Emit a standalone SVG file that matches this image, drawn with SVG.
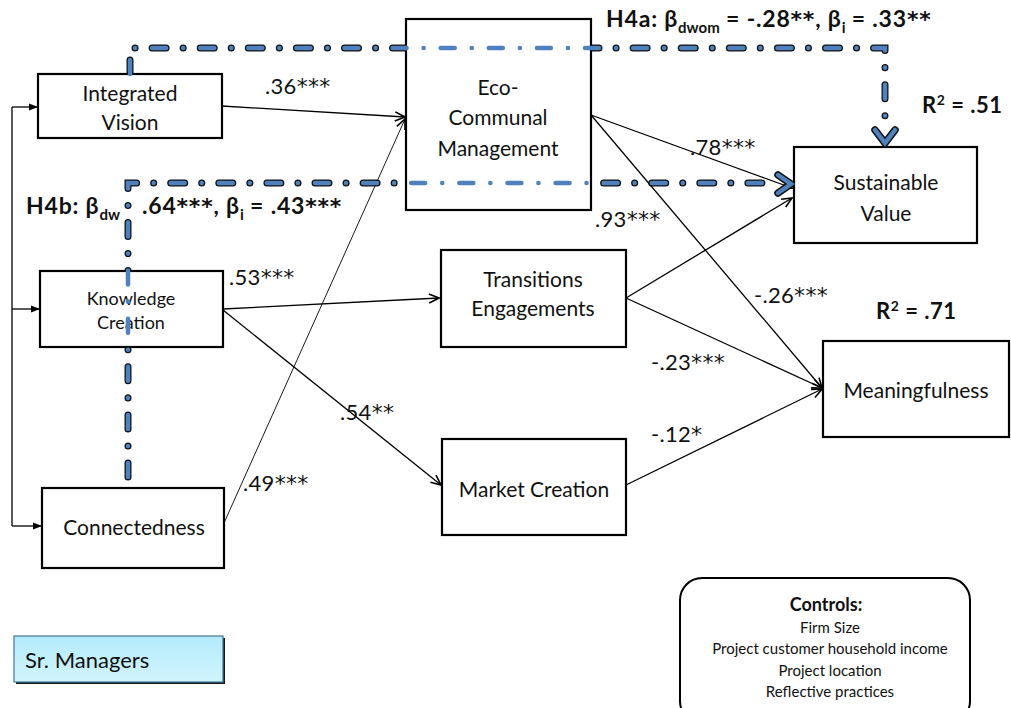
<svg xmlns="http://www.w3.org/2000/svg" width="1011" height="708" viewBox="0 0 1011 708">
  <defs>
    <style>
      .box { fill: #ffffff; stroke: #000000; stroke-width: 2.2; }
      .t { font-family: Lato, "Liberation Sans", sans-serif; font-size: 21px; fill: #111111; }
      .tc { text-anchor: middle; }
      .small { font-size: 18px; }
      .coef { font-family: Lato, "Liberation Sans", sans-serif; font-size: 22px; fill: #111111; letter-spacing: 0.3px; }
      .ast { font-family: "DejaVu Sans", sans-serif; font-size: 22px; }
      .bold { font-family: Lato, "Liberation Sans", sans-serif; font-weight: bold; font-size: 23px; fill: #111111; letter-spacing: 0.8px; }
      .bast { font-family: "DejaVu Sans", sans-serif; font-weight: bold; font-size: 22px; }
      .sub { font-size: 15px; letter-spacing: 0; }
      .edge { fill: none; stroke: #000000; stroke-width: 1.3; marker-end: url(#open); }
      .edge.thin { stroke-width: 0.9; }
      .feed { fill: none; stroke: #000000; stroke-width: 1.3; marker-end: url(#solid); }
      .dash-under { fill: none; stroke: #111111; stroke-width: 7; stroke-linecap: round; stroke-dasharray: 14 17 0.1 17; }
      .dash-over { fill: none; stroke: #4f81bd; stroke-width: 4.5; stroke-linecap: round; stroke-dasharray: 14 17 0.1 17; }
      .head-under { fill: none; stroke: #111111; stroke-width: 7.5; stroke-linejoin: miter; stroke-linecap: round; }
      .head-over { fill: none; stroke: #4f81bd; stroke-width: 4.5; stroke-linejoin: miter; stroke-linecap: round; }
      .ctl { font-family: Lato, "Liberation Sans", sans-serif; font-size: 15px; fill: #111111; text-anchor: middle; }
    </style>
    <marker id="open" viewBox="0 0 12 12" markerWidth="12" markerHeight="12" refX="11" refY="6" orient="auto" markerUnits="userSpaceOnUse">
      <path d="M1,1.5 L11,6 L1,10.5" fill="none" stroke="#000000" stroke-width="1.6"/>
    </marker>
    <marker id="solid" viewBox="0 0 10 10" markerWidth="9" markerHeight="9" refX="10" refY="5" orient="auto" markerUnits="userSpaceOnUse">
      <path d="M0,1 L10,5 L0,9 Z" fill="#000000"/>
    </marker>
    <linearGradient id="cyan" x1="0" y1="0" x2="0" y2="1">
      <stop offset="0" stop-color="#b3eafb"/>
      <stop offset="1" stop-color="#d2f5fd"/>
    </linearGradient>
  </defs>

  <!-- mediation paths: dark outline drawn beneath the boxes -->
  <g id="mediation-outline">
    <path class="dash-under" d="M130,74 V48 H885 V128"/>
    <path class="head-under" d="M875,130 L885,143 L895,130"/>
    <path class="dash-under" d="M128,477 V183 H776"/>
    <path class="head-under" d="M778,175 L791,184 L778,193"/>
  </g>

  <!-- nodes -->
  <g id="integrated-vision">
    <rect class="box" x="38" y="74" width="184" height="64"/>
    <text class="t tc" x="130" y="101">Integrated</text>
    <text class="t tc" x="130" y="130">Vision</text>
  </g>
  <g id="eco-communal-management">
    <rect class="box" x="406" y="19" width="185" height="191"/>
    <text class="t tc" x="498" y="95">Eco-</text>
    <text class="t tc" x="498" y="125">Communal</text>
    <text class="t tc" x="498" y="156">Management</text>
  </g>
  <g id="sustainable-value">
    <rect class="box" x="794" y="147" width="183" height="96"/>
    <text class="t tc" x="886" y="190">Sustainable</text>
    <text class="t tc" x="886" y="221">Value</text>
  </g>
  <g id="knowledge-creation">
    <rect class="box" x="40" y="271" width="183" height="76"/>
    <text class="t tc small" x="131" y="305">Knowledge</text>
    <text class="t tc small" x="131" y="329">Creation</text>
  </g>
  <g id="transitions-engagements">
    <rect class="box" x="441" y="250" width="185" height="97"/>
    <text class="t tc" x="533" y="287">Transitions</text>
    <text class="t tc" x="533" y="316">Engagements</text>
  </g>
  <g id="meaningfulness">
    <rect class="box" x="823" y="341" width="186" height="96"/>
    <text class="t tc" x="916" y="398">Meaningfulness</text>
  </g>
  <g id="market-creation">
    <rect class="box" x="442" y="439" width="184" height="96"/>
    <text class="t tc" x="534" y="497">Market Creation</text>
  </g>
  <g id="connectedness">
    <rect class="box" x="42" y="488" width="182" height="80"/>
    <text class="t tc" x="134" y="535">Connectedness</text>
  </g>
  <g id="controls">
    <rect x="680" y="578" width="290" height="145" rx="22" ry="22" fill="#ffffff" stroke="#000000" stroke-width="2"/>
    <text class="ctl" x="826" y="611" style="font-weight:bold;font-size:18px">Controls:</text>
    <text class="ctl" x="830" y="633">Firm Size</text>
    <text class="ctl" x="830" y="654">Project customer household income</text>
    <text class="ctl" x="830" y="676">Project location</text>
    <text class="ctl" x="830" y="697">Reflective practices</text>
  </g>
  <g id="sr-managers">
    <rect x="16" y="638" width="209" height="46" fill="#1a1a1a"/>
    <rect x="14" y="636" width="209" height="46" fill="url(#cyan)" stroke="#3f7896" stroke-width="1.2"/>
    <text class="t" x="25" y="668" style="font-size:22px">Sr. Managers</text>
  </g>

  <!-- connectors -->
  <g id="connectors">
    <!-- sample feed into the three antecedents -->
    <path class="feed" d="M12,107 H38"/>
    <path class="feed" d="M12,309 H40"/>
    <path class="feed" d="M12,526 H42"/>
    <path fill="none" stroke="#000000" stroke-width="1.3" d="M12,107 V526"/>

    <path class="edge" d="M222,106 L405,117"/>
    <path class="edge thin" d="M224,523 L405,119"/>
    <path class="edge" d="M223,309 L439,298"/>
    <path class="edge" d="M223,310 L441,485"/>
    <path class="edge" d="M591,115 L792,188"/>
    <path class="edge" d="M591,115 L822,388"/>
    <path class="edge" d="M626,298 L792,198"/>
    <path class="edge" d="M626,298 L822,388"/>
    <path class="edge" d="M626,485 L822,389"/>

    <!-- mediation paths: blue stroke drawn over the boxes -->
    <path class="dash-over" d="M130,74 V48 H885 V128"/>
    <path class="head-over" d="M875,130 L885,143 L895,130"/>
    <path class="dash-over" d="M128,477 V183 H776"/>
    <path class="head-over" d="M778,175 L791,184 L778,193"/>
  </g>

  <!-- path coefficients -->
  <g id="coefficients">
    <text class="coef" x="265" y="94">.36<tspan class="ast">***</tspan></text>
    <text class="coef" x="243" y="491">.49<tspan class="ast">***</tspan></text>
    <text class="coef" x="229" y="285">.53<tspan class="ast">***</tspan></text>
    <text class="coef" x="340" y="420">.54<tspan class="ast">**</tspan></text>
    <text class="coef" x="690" y="155">.78<tspan class="ast">***</tspan></text>
    <text class="coef" x="595" y="227">.93<tspan class="ast">***</tspan></text>
    <text class="coef" x="754" y="303">-.26<tspan class="ast">***</tspan></text>
    <text class="coef" x="651" y="370">-.23<tspan class="ast">***</tspan></text>
    <text class="coef" x="651" y="442">-.12<tspan class="ast">*</tspan></text>
  </g>

  <g id="mediation-labels">
    <text class="bold" x="606" y="27">H4a: β<tspan class="sub" dy="6">dwom</tspan><tspan dy="-6"> = -.28</tspan><tspan class="bast">**</tspan>, β<tspan class="sub" dy="6">i</tspan><tspan dy="-6"> = .33</tspan><tspan class="bast">**</tspan></text>
    <text class="bold" x="26" y="214">H4b: β<tspan class="sub" dy="6">dw</tspan></text>
    <text class="bold" x="142" y="214">.64<tspan class="bast">***</tspan>, β<tspan class="sub" dy="6">i</tspan><tspan dy="-6"> = .43</tspan><tspan class="bast">***</tspan></text>
    <text class="bold" x="922" y="113" style="font-size:22px;letter-spacing:0.5px">R<tspan dy="-8" style="font-size:14px">2</tspan><tspan dy="8"> = .51</tspan></text>
    <text class="bold" x="876" y="319" style="font-size:22px;letter-spacing:0.5px">R<tspan dy="-8" style="font-size:14px">2</tspan><tspan dy="8"> = .71</tspan></text>
  </g>
</svg>
